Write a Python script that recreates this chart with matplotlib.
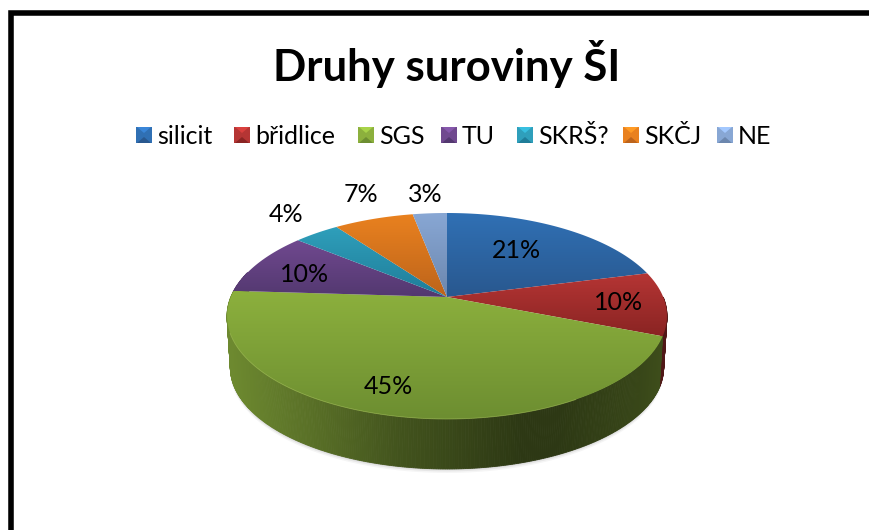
# coding=utf-8
# Druhy suroviny SI - 3D pie with perspective, drawn by hand on a pixel sized axes
import numpy as np
import matplotlib
matplotlib.use('Agg')
import matplotlib.pyplot as plt
from matplotlib.colors import to_rgb, LinearSegmentedColormap
from matplotlib.patches import Polygon

plt.rcParams['font.family'] = ['Lato', 'DejaVu Sans']

title = 'Druhy suroviny ŠI'
categories = ['silicit', 'břidlice', 'SGS', 'TU', 'SKRŠ?', 'SKČJ', 'NE']
values = [21, 10, 45, 10, 4, 7, 3]
top_colors = ['#3070b4', '#b53534', '#8cb03d', '#70498f', '#2f9fbb', '#e9811f', '#88a7d4']
bottom_colors = ['#29588f', '#8a2423', '#6d8e31', '#533870', '#1f7d99', '#bd641b', '#6c87ae']

# layout in pixels of the reference
CX, CY = 447, 297
BOTTOM_SCALE = 0.985
DEPTH = 51.5
K = 38 / 206
A = 216.2
B = 84 * (1 + K)
legend_x = [136, 234, 358, 441, 517, 623, 717]
label_pos = [(516, 250), (619, 303), (388, 387), (305, 275), (286, 215), (361, 194), (425, 194)]


def rim(theta):
    # circle seen in perspective, theta clockwise from the top
    u, v = np.sin(theta), np.cos(theta)
    d = 1 + K * v
    return CX + A * u / d, CY - B * v / d


def lower_rim(x, y):
    return CX + (x - CX) * BOTTOM_SCALE, 316 + (y - 316) * BOTTOM_SCALE + DEPTH


def side_shade(x):
    return np.interp(x, [230, 330, 400, 520, 560, 640, 667],
                     [0.78, 0.60, 0.47, 0.32, 0.32, 0.40, 0.45])


fig = plt.figure(figsize=(8.7, 5.3), dpi=100, facecolor='white')
ax = fig.add_axes([0, 0, 1, 1])
ax.set_xlim(0, 870)
ax.set_ylim(530, 0)
ax.axis('off')

# frame, only left and top are inside the crop
ax.plot([11.5, 11.5, 880], [540, 12.5, 12.5], color='black', lw=4.0,
        solid_joinstyle='miter', zorder=1)

edges = np.radians(np.cumsum([0] + values) * 360 / sum(values))

# soft shadow under the pie
full = np.linspace(np.radians(90), np.radians(285), 200)
sx, sy = lower_rim(*rim(full))
for grow, alpha in [(4, 0.04), (2.5, 0.06), (1, 0.10)]:
    ax.fill(np.r_[sx, sx[::-1]], np.r_[sy + grow, sy[::-1] - 20], color='black',
            alpha=alpha, lw=0, zorder=2)

# side wall, small strips shaded along x
for i in range(len(values)):
    t0, t1 = max(edges[i], np.radians(90)), min(edges[i + 1], np.radians(285))
    if t1 <= t0:
        continue
    ts = np.linspace(t0, t1, int(np.degrees(t1 - t0) * 2) + 2)
    base = np.array(to_rgb(top_colors[i]))
    for a, b in zip(ts[:-1], ts[1:]):
        xt, yt = rim(np.array([a, b]))
        xb, yb = lower_rim(xt, yt)
        c = base * side_shade((xt[0] + xt[1]) / 2)
        ax.fill([xt[0], xt[1], xb[1], xb[0]], [yt[0], yt[1], yb[1], yb[0]],
                color=c, lw=0.6, zorder=3)

# top face, one vertical gradient per slice
for i in range(len(values)):
    ts = np.linspace(edges[i], edges[i + 1], 120)
    xr, yr = rim(ts)
    xs = np.r_[CX, xr]
    ys = np.r_[CY, yr]
    cmap = LinearSegmentedColormap.from_list('s', [top_colors[i], bottom_colors[i]])
    im = ax.imshow(np.linspace(0, 1, 64).reshape(-1, 1), cmap=cmap, aspect='auto',
                   extent=(xs.min(), xs.max(), ys.max(), ys.min()), zorder=4)
    im.set_clip_path(Polygon(np.c_[xs, ys], closed=True, transform=ax.transData))

# light line along the front edge
ts = np.radians(np.linspace(150, 250, 200))
ax.plot(*rim(ts), color='#9cb952', lw=0.6, alpha=0.7, zorder=5)
ax.set_xlim(0, 870)
ax.set_ylim(530, 0)

for (x, y), v in zip(label_pos, values):
    ax.text(x, y, '%d%%' % v, ha='center', va='center', fontsize=18, color='black', zorder=6)

ax.text(447, 64, title, ha='center', va='center', fontsize=31.5, fontweight='bold', color='black')

# legend with bevelled squares
for x, name, c_top, c_bot in zip(legend_x, categories, top_colors, bottom_colors):
    y0, y1, x1 = 127, 143, x + 16
    xm, ym = x + 8, 135
    ax.fill([x, x1, x1, x], [y0, y0, y1, y1], color=c_top, lw=0, zorder=6)
    ax.fill([x + 1, x1 - 1, xm], [y0, y0, ym - 2], color=np.minimum(np.array(to_rgb(c_top)) * 1.2, 1), lw=0, zorder=7)
    ax.fill([x + 1, x1 - 1, xm], [y1, y1, ym + 2], color=c_bot, lw=0, zorder=7)
    ax.text(x + 21, 136, name, ha='left', va='center', fontsize=18, color='black', zorder=6)

fig.savefig('out.png', dpi=100)
